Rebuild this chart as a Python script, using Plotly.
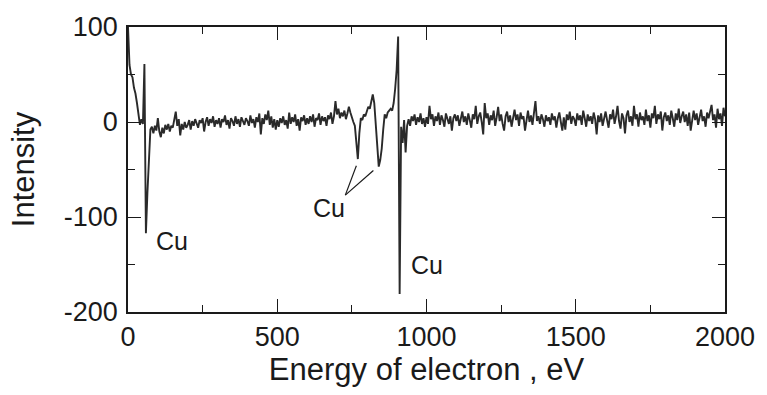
import plotly.graph_objects as go

# ---- data (energy step 5 eV) ----
energy_ev = [5 * i for i in range(401)]

intensity_0000 = [100, 60, 50, 47, 36, 30, 20, 8, -3, 3, -2, 61, -117, -75, -35, -8, -5, -12, -4, -9]
intensity_0100 = [4, -10, -16, -6, -12, -3, -8, -2, -10, -4, -6, 2, 11, -4, 3, -14, -2, -8, 0, -6]
intensity_0200 = [-3, 2, -8, 1, -4, 3, -2, -6, 2, -1, 4, -10, 0, 5, -4, 3, -1, 6, -5, 2]
intensity_0300 = [-2, 4, -6, 3, 0, 7, -3, 2, -7, 4, 1, -4, 6, -2, 3, -5, 5, 0, -3, 4]
intensity_0400 = [1, -4, 7, -1, 3, -6, 5, 0, 9, -13, 4, -2, 8, 2, 12, -3, 6, -6, 3, -8]
intensity_0500 = [2, -5, 4, -1, 6, -3, 2, -7, 10, -2, 5, 0, 8, -4, 3, -9, 5, 1, 7, -3]
intensity_0600 = [4, -2, 6, 0, 8, -5, 4, 2, 9, -3, 6, 1, 5, -4, 7, 3, 10, -2, 6, 22]
intensity_0700 = [8, 14, 4, 10, 6, 12, 3, 9, 16, 10, 4, 0, -4, -20, -39, -12, 4, 2, 8, 6]
intensity_0800 = [12, 16, 14, 22, 29, 20, -5, -30, -47, -40, -28, -8, 8, 4, 10, 12, 14, 12, 20, 35]
intensity_0900 = [55, 90, -181, -5, -22, 2, -32, -4, 3, -4, 6, 1, 8, -3, 5, 0, 9, -2, 4, -5]
intensity_1000 = [5, -2, 17, 3, 8, -4, 6, 1, 10, -3, 7, 2, -5, 9, 3, -2, 6, -9, 4, 8]
intensity_1100 = [1, 7, -4, 5, 11, 0, 6, -3, 9, 2, -6, 8, 3, 17, -2, 6, 10, 0, -13, 20]
intensity_1200 = [4, 9, -3, 7, 2, 12, -4, 5, 16, 1, 8, -2, -9, 6, 11, 0, 7, -5, 4, 13]
intensity_1300 = [2, 8, -4, 10, 3, 6, -9, 5, 12, 0, 7, -3, 9, 22, 1, 6, -2, 8, 3, -5]
intensity_1400 = [7, 1, 5, -3, 9, 2, 6, -6, 4, 10, 0, -9, 5, -8, 8, 2, 11, -2, 6, 3]
intensity_1500 = [-4, 9, 2, 7, -3, 12, 4, -5, 8, 1, 6, -2, 10, 3, -13, 7, 0, 9, -4, 5]
intensity_1600 = [11, 2, -6, 8, 3, 13, -2, 6, 17, 1, -7, 9, 4, -12, 7, 12, 0, 6, -4, 17]
intensity_1700 = [3, 8, -5, 10, 2, 6, -3, 13, 1, 7, -6, 9, 4, 17, -2, 8, 3, 11, -9, 5]
intensity_1800 = [10, 1, 7, -3, 12, 4, -5, 9, 2, 14, -1, 6, 11, 0, 8, -4, 10, -9, 5, 12]
intensity_1900 = [2, 9, -3, 7, 13, 1, 6, -5, 10, 4, 12, 18, 2, 8, -6, 14, 3, 9, -4, 15]
intensity_2000 = [6]

intensity = (intensity_0000 + intensity_0100 + intensity_0200 + intensity_0300 +
             intensity_0400 + intensity_0500 + intensity_0600 + intensity_0700 +
             intensity_0800 + intensity_0900 + intensity_1000 + intensity_1100 +
             intensity_1200 + intensity_1300 + intensity_1400 + intensity_1500 +
             intensity_1600 + intensity_1700 + intensity_1800 + intensity_1900 +
             intensity_2000)

x_ticks = [0, 500, 1000, 1500, 2000]
y_ticks = [-200, -100, 0, 100]

FONT = "Liberation Sans, Arial, Helvetica, sans-serif"
INK = "#1a1a1a"

fig = go.Figure()
fig.add_trace(go.Scatter(
    x=energy_ev, y=intensity, mode="lines",
    line=dict(color="#2a2a2a", width=1.9),
    showlegend=False, hoverinfo="skip",
))

# Cu labels
fig.add_annotation(x=86, y=-125, text="Cu", showarrow=False, xanchor="left", yanchor="middle",
                   font=dict(family=FONT, size=25, color=INK))
fig.add_annotation(x=674, y=-90, text="Cu", showarrow=False, xanchor="center", yanchor="middle",
                   font=dict(family=FONT, size=25, color=INK))
fig.add_annotation(x=942, y=-150, text="Cu", showarrow=False, xanchor="left", yanchor="middle",
                   font=dict(family=FONT, size=25, color=INK))
# leader lines from middle Cu label
fig.add_shape(type="line", xref="x", yref="y", x0=728, y0=-77, x1=765, y1=-46,
              line=dict(color=INK, width=1.2))
fig.add_shape(type="line", xref="x", yref="y", x0=728, y0=-77, x1=822, y1=-51,
              line=dict(color=INK, width=1.2))

axis_common = dict(
    showline=True, linecolor=INK, linewidth=1.6, mirror="ticks",
    ticks="inside", ticklen=13, tickwidth=1.3, tickcolor=INK,
    showgrid=False, zeroline=False,
    tickfont=dict(family=FONT, size=27, color=INK),
    title_font=dict(family=FONT, size=31, color=INK),
)

fig.update_xaxes(
    range=[0, 2000], tickvals=x_ticks, ticktext=[str(v) for v in x_ticks],
    minor=dict(ticks="inside", ticklen=7, tickwidth=1.2, tickcolor=INK, dtick=250, tick0=0, showgrid=False),
    title_text="Energy of electron , eV", title_standoff=4,
    **axis_common,
)
fig.update_yaxes(
    range=[-200, 100], tickvals=y_ticks, ticktext=[str(v) for v in y_ticks],
    minor=dict(ticks="inside", ticklen=7, tickwidth=1.2, tickcolor=INK, dtick=50, tick0=0, showgrid=False),
    title_text="Intensity", title_standoff=20, ticklabelstandoff=3,
    **axis_common,
)

fig.update_layout(
    width=767, height=395,
    margin=dict(l=128, r=34, t=24, b=83),
    paper_bgcolor="white", plot_bgcolor="white",
    font=dict(family=FONT, color=INK),
)

fig.write_html("out.html", include_plotlyjs=True, full_html=True,
               config={"displayModeBar": False})
